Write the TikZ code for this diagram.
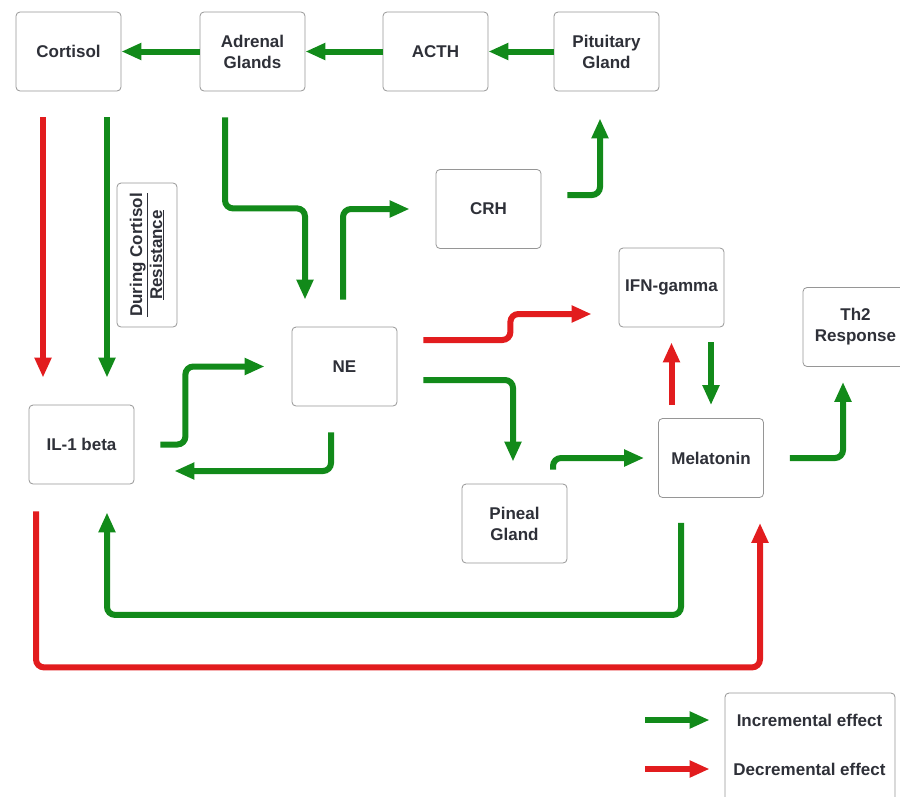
\documentclass[tikz,border=0pt]{standalone}
\usepackage{fontspec}
\setmainfont{Liberation Sans}
\usetikzlibrary{arrows, arrows.meta}
\definecolor{incgreen}{RGB}{18,138,26}
\definecolor{decred}{RGB}{226,28,30}
\definecolor{boxgray}{RGB}{150,150,150}
\definecolor{txtgray}{RGB}{46,48,56}
\tikzset{
  box/.style={draw=boxgray, line width=0.8pt, rounded corners=4pt, fill=white,
    minimum width=105pt, minimum height=79pt, align=center, inner sep=2pt,
    text=txtgray, font=\fontsize{17}{21}\selectfont\bfseries},
  inc/.style={draw=incgreen, line width=6pt, rounded corners=8pt, -{Triangle[length=20pt,width=16pt]}},
  dec/.style={draw=decred, line width=6pt, rounded corners=8pt, -{Triangle[length=20pt,width=16pt]}}
}
\begin{document}
\begin{tikzpicture}[x=1pt, y=-1pt]
      \useasboundingbox (0,0) rectangle (900,796);
      \clip (0,0) rectangle (900,796);

      \node[box] (cort) at (68.5,51.5) {Cortisol};
      \node[box] (adr) at (252.5,51.5) {Adrenal\\Glands};
      \node[box] (acth) at (435.5,51.5) {ACTH};
      \node[box] (pit) at (606.5,51.5) {Pituitary\\Gland};
      \node[box] (crh) at (488.5,209) {CRH};
      \node[box] (ifn) at (671.5,287.5) {IFN-gamma};
      \node[box] (th2) at (855.5,327) {Th2\\Response};
      \node[box] (ne) at (344.5,366.5) {NE};
      \node[box] (il) at (81.5,444.5) {IL-1 beta};
      \node[box] (pin) at (514.5,523.5) {Pineal\\Gland};
      \node[box] (mel) at (711,458) {Melatonin};
      \node[box, rotate=90, minimum width=144pt, minimum height=60pt, font=\fontsize{17}{20}\selectfont\bfseries] (dcr) at (147,255) {\underline{During Cortisol}\\\underline{Resistance}};

      % HPA axis
      \draw[inc] (adr.west) -- (cort.east);
      \draw[inc] (acth.west) -- (adr.east);
      \draw[inc] (pit.west) -- (acth.east);
      \draw[dec] ([xshift=-25.5pt,yshift=-26pt]cort.south) -- ([xshift=-38.5pt,yshift=27pt]il.north);
      \draw[inc] ([xshift=38.5pt,yshift=-26pt]cort.south) -- ([xshift=25.5pt,yshift=27pt]il.north);
      \draw[inc] ([xshift=-27.5pt,yshift=-26pt]adr.south) -- ++(0,91) -| ([xshift=-39.5pt,yshift=27pt]ne.north);
      \draw[inc] ([xshift=-1.5pt,yshift=27pt]ne.north) |- ([xshift=-26pt]crh.west);
      \draw[inc] ([xshift=26pt,yshift=14pt]crh.east) -| ([xshift=-6.5pt,yshift=-27pt]pit.south);

      % NE, IL-1 and melatonin
      \draw[dec] ([xshift=26pt,yshift=26.5pt]ne.east) -- ++(87,0) |- ([xshift=-27pt,yshift=-26.5pt]ifn.west);
      \draw[inc] ([xshift=26pt,yshift=-13.5pt]ne.east) -| ([xshift=-1.5pt,yshift=22pt]pin.north);
      \draw[dec] ([xshift=-39.5pt,yshift=13pt]mel.north) -- ([yshift=-15pt]ifn.south);
      \draw[inc] ([xshift=39.5pt,yshift=-15pt]ifn.south) -- ([yshift=13pt]mel.north);
      \draw[inc] ([xshift=38.5pt,yshift=14pt]pin.north) |- ([xshift=-14pt]mel.west);
      \draw[inc] ([xshift=26pt]mel.east) -| ([xshift=-12.5pt,yshift=-15pt]th2.south);
      \draw[inc] ([xshift=26pt]il.east) -- ++(25,0) |- ([xshift=-27pt]ne.west);
      \draw[inc] ([xshift=-13.5pt,yshift=-26pt]ne.south) |- ([xshift=40pt,yshift=-26.5pt]il.east);
      \draw[inc] ([xshift=-30pt,yshift=-25pt]mel.south) -- ++(0,92) -| ([xshift=25.5pt,yshift=-28pt]il.south);
      \draw[dec] ([xshift=-45.5pt,yshift=-27pt]il.south) -- ++(0,156) -| ([xshift=49pt,yshift=-25pt]mel.south);

      % legend
      \node[box, minimum width=170pt, minimum height=130pt] (leg) at (810,758) {};
      \node[text=txtgray, font=\fontsize{17}{21}\selectfont\bfseries] (inctxt) at (809.5,720) {Incremental effect};
      \node[text=txtgray, font=\fontsize{17}{21}\selectfont\bfseries] (dectxt) at (809.5,769) {Decremental effect};
      \coordinate (li) at (645,720);
      \coordinate (ld) at (645,769);
      \draw[inc, rounded corners=0pt, shorten >=15pt] (li) -- (li -| leg.west);
      \draw[dec, rounded corners=0pt, shorten >=15pt] (ld) -- (ld -| leg.west);
    \end{tikzpicture}
\end{document}
